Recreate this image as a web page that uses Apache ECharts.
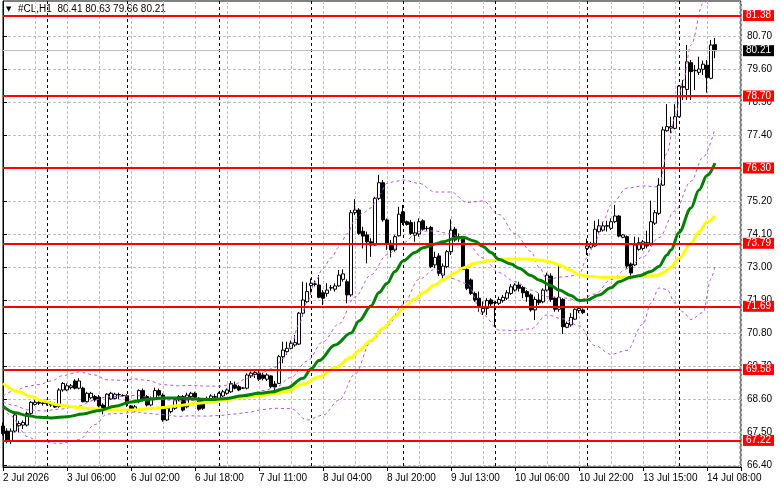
<!DOCTYPE html>
<html><head><meta charset="utf-8">
<script src="https://cdn.jsdelivr.net/npm/echarts@6/dist/echarts.min.js"></script>
<style>html,body{margin:0;padding:0;background:#fff}#c{width:781px;height:489px}</style>
</head><body><div id="c"></div>
<script>
const symbol = '#CL', timeframe = 'H1';
const timeLabels = ['2 Jul 2026','3 Jul 06:00','6 Jul 02:00','6 Jul 18:00','7 Jul 11:00','8 Jul 04:00','8 Jul 20:00','9 Jul 13:00','10 Jul 06:00','10 Jul 22:00','13 Jul 15:00','14 Jul 08:00'];
const labelStep = 16;
const gridStep = 8;
const daySeparators = [11,31,54,77,100,123,146,169];
const priceTicks = [66.40,67.50,68.60,69.70,70.80,71.90,73.00,74.10,75.20,76.30,77.40,78.50,79.60,80.70];
const levels = [81.38,78.70,76.30,73.79,71.69,69.58,67.22];
const bidPrice = 80.21;

const opens = [67.70,67.53,67.18,67.53,67.71,67.73,67.73,68.12,68.42,68.48,68.45,68.50,68.46,68.42,68.35,68.90,68.90,68.98,69.20,68.96,
68.96,68.51,68.64,68.68,68.66,68.40,68.29,68.60,68.62,68.74,68.72,68.71,68.37,68.21,68.51,68.88,68.68,68.40,68.62,68.88,
68.73,67.90,68.18,68.29,68.57,68.68,68.34,68.68,68.79,68.62,68.54,68.51,68.51,68.66,68.57,68.70,68.79,68.84,69.07,69.01,
68.96,68.96,69.37,69.42,69.46,69.40,69.26,69.37,69.10,69.12,70.01,70.18,70.29,70.40,70.43,71.46,71.84,72.38,72.42,72.40,
72.14,72.12,72.30,72.26,72.37,72.59,72.51,72.07,74.81,74.90,74.19,74.07,73.84,73.73,75.29,75.81,74.57,73.79,73.57,74.04,
74.84,74.51,74.48,74.06,74.10,74.54,74.28,74.32,73.07,73.37,72.73,73.01,73.51,74.26,74.01,73.92,72.92,72.57,72.12,71.96,
71.50,71.62,71.90,71.82,71.79,71.88,71.96,72.12,72.23,72.40,72.32,72.18,72.07,71.57,71.90,71.84,72.23,72.70,71.96,71.59,
71.92,70.99,71.07,71.26,71.55,71.57,73.62,73.66,73.70,74.18,74.23,74.36,74.29,74.51,74.70,73.99,74.01,73.10,73.07,73.59,
73.62,73.81,73.79,74.46,74.79,75.73,77.54,77.63,77.62,78.01,78.99,78.92,79.81,79.55,79.49,79.59,79.73,79.29,80.41];
const highs = [67.82,67.62,67.62,68.12,67.87,67.89,68.18,68.53,68.57,68.55,68.53,68.58,68.53,68.48,68.96,69.16,69.12,69.10,69.26,69.29,
69.01,68.84,68.84,68.73,68.73,68.46,68.79,68.84,68.81,68.81,68.76,68.76,68.40,68.40,68.92,68.95,68.73,68.68,68.98,68.95,
68.79,68.34,68.40,68.62,68.73,68.73,68.81,68.84,68.84,68.66,68.60,68.68,68.76,68.76,68.84,68.90,68.95,69.20,69.18,69.07,
69.00,69.46,69.52,69.57,69.55,69.48,69.46,69.40,69.20,70.07,70.51,70.51,70.55,70.73,71.50,72.51,72.48,72.62,72.55,72.73,
72.23,72.46,72.40,72.46,72.90,72.92,72.59,74.90,75.26,74.96,74.34,74.18,73.96,75.34,76.07,75.90,74.62,73.90,74.07,75.01,
75.07,74.55,74.57,74.51,74.62,74.59,74.37,74.37,73.51,73.46,73.12,73.57,74.59,74.34,74.12,74.01,73.01,72.62,72.18,72.18,
71.85,71.96,71.96,71.86,72.01,72.07,72.23,72.43,72.46,72.51,72.37,72.23,72.12,72.01,72.12,72.29,72.81,72.79,72.01,73.10,
71.96,71.18,71.46,71.62,71.70,71.62,73.95,73.84,74.54,74.59,74.51,74.54,74.62,75.07,74.73,74.10,74.05,73.15,74.01,73.99,
73.90,74.21,75.21,74.90,75.96,77.68,78.43,78.01,78.43,79.07,79.23,80.40,79.90,79.73,80.01,79.88,79.90,80.57,80.63];
const lows = [67.38,67.12,67.10,67.49,67.49,67.60,67.68,68.07,68.38,68.40,68.38,68.38,68.34,68.30,68.31,68.84,68.86,68.92,68.92,68.92,
68.49,68.49,68.60,68.51,68.32,68.09,68.26,68.57,68.59,68.60,68.68,68.34,68.22,68.16,68.46,68.52,68.35,68.36,68.58,68.68,
67.84,67.86,68.12,68.24,68.52,68.18,68.29,68.62,68.60,68.21,68.24,68.46,68.46,68.60,68.52,68.66,68.74,68.80,68.92,68.86,
68.93,68.92,69.30,69.30,69.20,69.22,69.20,68.96,68.88,69.10,69.79,70.07,70.25,70.34,70.40,71.34,71.80,72.07,72.35,71.96,
71.73,72.01,72.21,72.18,72.34,72.51,71.79,72.01,74.73,74.07,73.62,73.12,73.34,73.70,75.23,74.51,73.57,73.32,73.51,74.01,
74.40,74.38,74.07,73.84,74.01,74.21,74.21,72.96,72.96,72.70,72.57,72.96,73.40,73.84,73.84,72.90,72.23,72.07,71.84,71.51,
71.40,71.40,71.68,71.00,71.73,71.81,71.90,72.07,72.18,72.18,71.96,71.84,71.51,71.23,71.73,71.79,72.18,71.84,71.51,71.51,
70.77,70.96,71.01,71.23,71.46,71.43,73.40,73.62,73.66,74.12,74.18,74.18,74.23,74.46,73.99,73.96,72.95,72.59,73.03,73.54,
73.55,73.62,73.70,74.40,74.73,75.70,77.51,77.46,77.59,77.99,78.57,78.57,78.57,78.90,79.40,79.40,78.81,79.26,79.96];
const closes = [67.45,67.23,67.53,68.07,67.78,67.82,68.12,68.49,68.49,68.46,68.47,68.45,68.40,68.33,68.90,69.12,69.04,69.04,68.96,69.20,
68.51,68.79,68.79,68.57,68.37,68.23,68.76,68.79,68.76,68.75,68.71,68.46,68.27,68.34,68.88,68.57,68.40,68.62,68.88,68.73,
67.90,68.29,68.34,68.57,68.68,68.23,68.73,68.79,68.66,68.26,68.29,68.62,68.70,68.68,68.79,68.84,68.90,69.12,68.96,68.90,
68.97,69.40,69.46,69.48,69.26,69.29,69.40,69.01,69.00,70.01,70.23,70.29,70.46,70.48,71.46,71.90,72.18,72.46,72.44,71.99,
71.96,72.23,72.31,72.37,72.73,72.77,72.07,74.81,74.90,74.12,74.03,73.84,73.73,75.29,75.81,74.57,73.79,73.57,74.01,74.76,
74.48,74.42,74.12,74.14,74.51,74.26,74.29,73.01,73.32,72.79,73.03,73.51,74.23,73.90,73.98,72.92,72.29,72.12,71.90,71.66,
71.62,71.88,71.77,71.80,71.92,71.99,72.14,72.34,72.40,72.29,72.14,72.01,71.57,71.92,71.81,72.23,72.73,71.92,71.59,71.99,
71.01,71.12,71.32,71.59,71.62,71.48,73.70,73.77,74.26,74.37,74.37,74.38,74.51,74.70,74.03,74.07,73.03,72.80,73.73,73.81,
73.84,73.70,74.51,74.81,75.73,77.57,77.68,77.68,78.01,79.03,79.02,79.84,79.51,79.54,79.60,79.76,79.32,80.40,80.21];

const maGreen = [[0,68.36],[3,68.14],[6,68.05],[9,67.99],[12,67.97],[16,68.01],[20,68.10],[24,68.22],[28,68.36],[32,68.50],[36,68.58],[40,68.63],[44,68.63],[48,68.60],[52,68.58],[56,68.62],[60,68.71],[64,68.79],[67,68.83],[71,68.97],[75,69.29],[77,69.60],[79,69.88],[83,70.40],[87,70.80],[89,71.20],[92,71.70],[94,72.15],[96,72.45],[98,72.85],[100,73.20],[103,73.48],[105,73.64],[108,73.77],[110,73.84],[113,73.96],[115,73.99],[118,73.86],[120,73.68],[122,73.48],[124,73.25],[127,73.10],[129,72.96],[132,72.72],[134,72.57],[137,72.38],[139,72.23],[142,72.05],[144,71.88],[146,71.90],[149,72.07],[152,72.31],[154,72.51],[157,72.66],[159,72.71],[162,72.85],[164,73.02],[166,73.40],[167,73.57],[169,74.15],[172,74.97],[174,75.57],[176,76.05],[178,76.46]];
const maYellow = [[0,69.12],[4,68.84],[7,68.68],[10,68.53],[14,68.40],[19,68.31],[24,68.26],[29,68.23],[33,68.23],[37,68.28],[40,68.32],[44,68.38],[48,68.45],[52,68.50],[56,68.58],[60,68.66],[64,68.72],[68,68.78],[71,68.85],[75,69.10],[79,69.34],[83,69.64],[87,69.98],[89,70.22],[92,70.55],[95,70.95],[98,71.35],[100,71.62],[103,71.93],[105,72.14],[108,72.40],[110,72.58],[113,72.80],[115,72.97],[118,73.12],[120,73.17],[122,73.22],[125,73.26],[129,73.27],[132,73.26],[134,73.23],[137,73.17],[139,73.07],[142,72.89],[144,72.74],[147,72.68],[150,72.66],[154,72.66],[159,72.68],[163,72.71],[165,72.80],[167,73.00],[169,73.29],[172,73.78],[174,74.17],[176,74.50],[178,74.70]];
const bbUpper = [[0,68.70],[3,68.88],[6,69.02],[9,69.08],[12,69.20],[15,69.38],[19,69.50],[23,69.40],[26,69.24],[30,69.22],[33,69.27],[36,69.22],[40,69.08],[44,69.04],[47,69.05],[51,69.03],[54,69.03],[58,69.10],[61,69.29],[65,69.50],[68,69.65],[70,69.95],[72,70.36],[74,71.10],[76,71.82],[78,72.50],[80,72.96],[82,73.30],[84,73.66],[86,74.10],[88,74.57],[90,74.80],[92,74.97],[94,75.40],[96,75.79],[98,75.85],[100,75.90],[104,75.79],[108,75.50],[112,75.50],[116,75.15],[120,75.20],[124,74.75],[128,74.11],[132,73.52],[134,73.00],[136,72.60],[140,72.67],[144,72.74],[146,73.30],[148,73.82],[150,74.50],[152,75.07],[156,75.63],[160,75.70],[164,75.67],[166,76.80],[168,77.99],[170,79.20],[172,80.40],[175,81.78],[178,82.31]];
const bbMiddle = [[0,68.50],[3,68.38],[6,68.24],[10,68.20],[14,68.26],[19,68.37],[23,68.57],[26,68.67],[30,68.69],[33,68.72],[36,68.67],[40,68.58],[44,68.53],[47,68.55],[51,68.53],[54,68.54],[58,68.60],[61,68.72],[65,68.88],[68,68.97],[72,69.32],[76,69.86],[80,70.51],[84,71.11],[88,72.00],[92,72.74],[96,73.41],[100,73.81],[104,74.19],[108,74.20],[112,74.10],[116,73.78],[120,73.30],[124,72.81],[128,72.51],[132,72.23],[136,72.01],[140,71.97],[144,71.89],[148,72.10],[152,72.58],[156,72.94],[160,73.33],[164,73.98],[168,74.87],[172,75.86],[175,76.66],[178,77.62]];
const bbLower = [[0,68.30],[2,68.05],[3,67.92],[4,67.62],[6,67.35],[9,67.18],[14,67.12],[19,67.24],[23,67.75],[26,68.10],[30,68.12],[33,68.17],[36,68.12],[40,68.08],[44,68.02],[47,68.04],[51,68.03],[54,68.05],[58,68.10],[61,68.15],[65,68.25],[68,68.29],[72,68.28],[76,67.90],[80,68.06],[84,68.56],[88,69.43],[92,70.51],[96,71.03],[100,71.74],[104,72.59],[108,72.92],[112,72.62],[116,72.45],[120,71.40],[124,70.90],[128,70.88],[132,70.94],[136,71.40],[140,71.27],[144,71.04],[148,70.38],[152,70.09],[156,70.22],[160,71.10],[162,71.80],[164,72.30],[166,72.25],[168,71.80],[170,71.50],[172,71.25],[175,71.48],[177,72.60],[178,73.05]];

const FONT = 'Liberation Sans';
const FS = 10;
const candleData = opens.map((o, i) => [i, o, closes[i], lows[i], highs[i]]);
const last = opens.length - 1;
const header = symbol + ',' + timeframe + '  ' + [opens[last], highs[last], lows[last], closes[last]].map(v => v.toFixed(2)).join(' ');

const chart = echarts.init(document.getElementById('c'), null, {renderer: 'canvas'});
const xBase = {type: 'value', min: 0, max: 184.5, position: 'bottom', gridIndex: 0};
const bbStyle = {color: '#bb55dd', width: 1, type: [3, 3]};
function bbSeries(d) {
  return {type: 'line', data: d, symbol: 'none', smooth: 0.35, smoothMonotone: 'x', lineStyle: bbStyle, z: 3, silent: true};
}
const levelItems = [{yAxis: bidPrice, lineStyle: {color: '#c0c0c0', width: 1, type: 'solid'}, label: {formatter: bidPrice.toFixed(2), backgroundColor: '#000'}}]
  .concat(levels.map(v => ({yAxis: v, lineStyle: {color: '#ff0000', width: 2, type: 'solid'}, label: {formatter: v.toFixed(2), backgroundColor: '#ff0000'}})));

chart.setOption({
  animation: false,
  backgroundColor: '#fff',
  grid: {left: 3, right: 40, top: 1, bottom: 22, show: true, borderColor: '#000', borderWidth: 1, backgroundColor: '#fff'},
  xAxis: [
    Object.assign({}, xBase, {
      interval: labelStep,
      axisLine: {show: true, onZero: false, lineStyle: {color: '#000'}},
      axisTick: {show: true, length: 4, lineStyle: {color: '#000'}},
      axisLabel: {align: 'left', margin: 6, color: '#000', fontSize: FS, fontFamily: FONT,
        formatter: v => (v % labelStep === 0 && timeLabels[v / labelStep]) || ''},
      splitLine: {show: false}
    }),
    Object.assign({}, xBase, {
      interval: gridStep,
      axisLine: {show: false}, axisTick: {show: false}, axisLabel: {show: false},
      splitLine: {show: true, lineStyle: {color: '#c0c0c0', width: 1, type: [3, 2]}}
    }),
    Object.assign({}, xBase, {
      axisLine: {show: false}, axisTick: {show: false, customValues: daySeparators}, axisLabel: {show: false, customValues: daySeparators},
      splitLine: {show: true, lineStyle: {color: '#000', width: 1, type: [3, 3]}}
    })
  ],
  yAxis: {
    type: 'value', position: 'right', min: 66.3333, max: 81.8667,
    axisLine: {show: true, lineStyle: {color: '#000'}},
    axisTick: {show: true, length: 4, customValues: priceTicks, lineStyle: {color: '#000'}},
    axisLabel: {customValues: priceTicks, formatter: v => v.toFixed(2), margin: 6, color: '#000', fontSize: FS, fontFamily: FONT},
    splitLine: {show: true, lineStyle: {color: '#c0c0c0', width: 1, type: [3, 2]}}
  },
  graphic: [
    {type: 'text', left: 6, top: 6, style: {text: '\u25BC', fontSize: 7, fontFamily: 'DejaVu Sans', fill: '#000'}},
    {type: 'text', left: 18, top: 4, style: {text: header, fontSize: FS, fontFamily: FONT, fill: '#000'}}
  ],
  series: [
    {type: 'candlestick', data: candleData, barWidth: 3, clip: false, z: 2, silent: true,
      itemStyle: {color: '#fff', color0: '#000', borderColor: '#000', borderColor0: '#000', borderWidth: 1},
      markLine: {silent: true, symbol: ['none', 'none'], animation: false, z: 6,
        label: {show: true, position: 'end', color: '#fff', fontSize: FS, fontFamily: FONT, padding: [1, 3, 0, 3], distance: 2},
        data: levelItems}
    },
    bbSeries(bbUpper), bbSeries(bbMiddle), bbSeries(bbLower),
    {type: 'line', data: maYellow, symbol: 'none', smooth: 0.35, smoothMonotone: 'x', lineStyle: {color: '#ffff00', width: 3}, z: 4, silent: true},
    {type: 'line', data: maGreen, symbol: 'none', smooth: 0.35, smoothMonotone: 'x', lineStyle: {color: '#008000', width: 3}, z: 4, silent: true}
  ]
});
</script></body></html>
